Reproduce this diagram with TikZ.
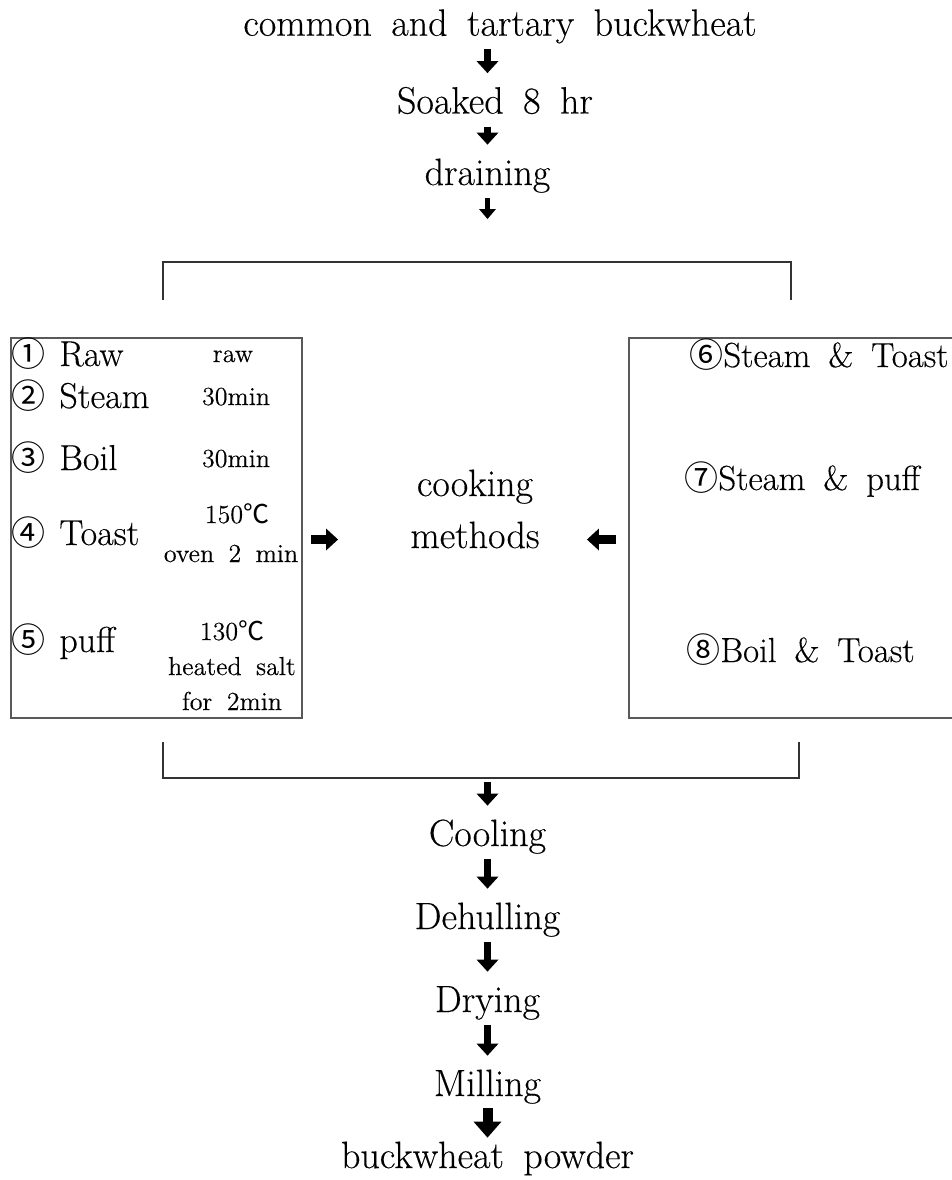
\documentclass[tikz,border=0pt]{standalone}
\usepackage{fontspec}
\setmainfont{Latin Modern Roman}[WordSpace=1.7, FakeBold=0.3]
\newfontfamily\cjk{Noto Sans CJK KR}
\usetikzlibrary{arrows.meta}
\newcommand{\cnum}[1]{{\cjk\fontsize{17}{18}\selectfont#1}}
\begin{document}
\begin{tikzpicture}[x=0.5pt,y=-0.5pt]
\tikzstyle{tx}=[draw=none, inner sep=0pt, anchor=base, font=\fontsize{19}{21}\selectfont, text height=13pt, text depth=4.5pt]
\tikzstyle{lb}=[draw=none, inner sep=0pt, anchor=base west, font=\fontsize{18}{20}\selectfont]
\tikzstyle{rb}=[lb, font=\fontsize{17.4}{19}\selectfont]
\tikzstyle{sm}=[draw=none, inner sep=0pt, anchor=base, font=\fontsize{13}{15}\selectfont]
\tikzstyle{box}=[draw=black!65, line width=0.75pt, inner sep=0pt, minimum height=190pt]
\tikzstyle{bar}=[draw=black!80, line width=0.8pt]
\tikzstyle{blk}=[line width=3.5pt, -{Triangle[length=6pt,width=11pt,line width=0pt]}, shorten <=2pt, shorten >=7pt]
\tikzstyle{sblk}=[line width=2.8pt, -{Triangle[length=5pt,width=8.5pt,line width=0pt]}, shorten <=2pt]
\tikzstyle{bigblk}=[line width=5pt, -{Triangle[length=8pt,width=14pt,line width=0pt]}, shorten <=1.5pt, shorten >=2pt]
\tikzstyle{side}=[line width=4.5pt, -{Triangle[length=6pt,width=11pt,line width=0pt]}]
\useasboundingbox (0,0) rectangle (952,1180);

\node[tx] (src) at (500,35.7) {common and tartary buckwheat};
\node[tx] (soak) at (495,113.5) {Soaked 8 hr};
\node[tx] (drain) at (487.5,185) {draining};
\coordinate (gap) at (487.5,219);

\draw[blk] (src.south -| drain) -- (soak.north -| drain);
\draw[blk] (soak.south -| drain) -- (drain);
\draw[sblk] (drain) -- (gap);

\draw[bar] (163,300) -- (163,262) -- (791,262) -- (791,300);

\node[box, minimum width=145.5pt] (lbox) at (156.5,528) {};
\node[box, minimum width=162pt] (rbox) at (791,528) {};

\node[lb] (m1) at (11,366) {\cnum{①}\hspace{7pt}Raw};
\node[lb] (m2) at (11,408) {\cnum{②}\hspace{7pt}Steam};
\node[lb] (m3) at (11,470) {\cnum{③}\hspace{7pt}Boil};
\node[lb] (m4) at (11,545) {\cnum{④}\hspace{7pt}Toast};
\node[lb] (m5) at (11,652) {\cnum{⑤}\hspace{7pt}puff};

\node[sm] (c1) at (233,362) {raw};
\node[sm] (c2) at (236,405) {30min};
\node[sm] (c3) at (236,467) {30min};
\node[sm] (c4a) at (237,523) {150{\cjk ℃}};
\node[sm] (c4b) at (231,562) {oven 2 min};
\node[sm] (c5a) at (232,640) {130{\cjk ℃}};
\node[sm] (c5b) at (232,675) {heated salt};
\node[sm] (c5c) at (232,710) {for 2min};

\node[rb] (m6) at (689,367) {\cnum{⑥}Steam \& Toast};
\node[rb] (m7) at (684,490) {\cnum{⑦}Steam \& puff};
\node[rb] (m8) at (686,662) {\cnum{⑧}Boil \& Toast};

\node[tx] (cookA) at (475,496) {cooking};
\node[tx] (cookB) at (475,548) {methods};
\draw[side, shorten <=4pt, shorten >=36pt] (lbox.east |- cookB) -- (cookB);
\draw[side, shorten <=6pt, shorten >=23.5pt] (rbox.west |- cookB) -- (cookB);

\draw[bar] (163,742) -- (163,778) -- (799,778) -- (799,742);
\coordinate (join) at (487.5,778);

\node[tx] (cool) at (487.5,846) {Cooling};
\node[tx] (dehull) at (487.5,929) {Dehulling};
\node[tx] (dry) at (487.5,1012) {Drying};
\node[tx] (mill) at (487.5,1096) {Milling};
\node[tx] (powder) at (487.5,1168) {buckwheat powder};

\draw[blk] (join) -- (cool);
\draw[blk] (cool) -- (dehull);
\draw[blk] (dehull) -- (dry);
\draw[blk] (dry) -- (mill);
\draw[bigblk] (mill) -- (powder);
%\draw[blk] (lbox) -- (rbox);
\end{tikzpicture}
\end{document}
